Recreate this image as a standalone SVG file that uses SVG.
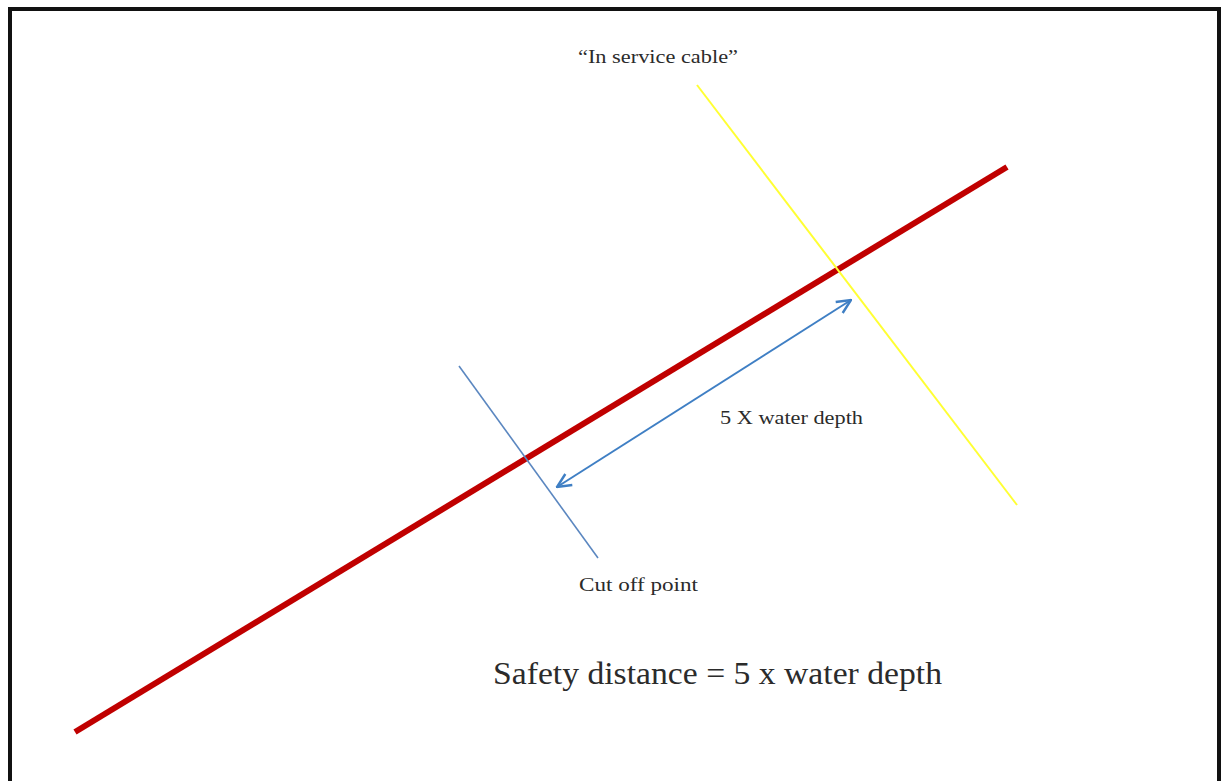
<svg xmlns="http://www.w3.org/2000/svg" width="1222" height="781" viewBox="0 0 1222 781">
<defs>
<style>
.t{font-family:"Liberation Serif","DejaVu Serif",serif;fill:#2b2b2b}
</style>
<marker id="ah" viewBox="0 0 16 16" refX="15" refY="8" markerWidth="16" markerHeight="16" markerUnits="userSpaceOnUse" orient="auto-start-reverse">
<path d="M1,1.5 L15,8 L1,14.5" fill="none" stroke="#3f7fc4" stroke-width="2.4"/>
</marker>
</defs>
<rect width="1222" height="781" fill="#fff"/>
<rect id="frame" x="10" y="9" width="1209" height="800" fill="none" stroke="#111" stroke-width="4"/>
<g id="connectors">
<line id="cable" x1="75" y1="732" x2="1007" y2="167" stroke="#c00000" stroke-width="6"/>
<line id="in-service" x1="697" y1="85" x2="1017" y2="505" stroke="#ffff33" stroke-width="2"/>
<line id="cutoff" x1="459" y1="366" x2="598" y2="558" stroke="#5b87c0" stroke-width="1.6"/>
<line id="distance" x1="557" y1="487" x2="851" y2="300" stroke="#3f7fc4" stroke-width="2" marker-start="url(#ah)" marker-end="url(#ah)"/>
</g>
<g id="label-inservice"><text class="t" x="578" y="63" font-size="18" textLength="160" lengthAdjust="spacingAndGlyphs">“In service cable”</text></g>
<g id="label-depth"><text class="t" x="720" y="424" font-size="18" textLength="143" lengthAdjust="spacingAndGlyphs">5 X water depth</text></g>
<g id="label-cutoff"><text class="t" x="579" y="591" font-size="18" textLength="119" lengthAdjust="spacingAndGlyphs">Cut off point</text></g>
<g id="label-safety"><text class="t" x="493" y="684" font-size="32" textLength="449" lengthAdjust="spacingAndGlyphs">Safety distance = 5 x water depth</text></g>
</svg>
